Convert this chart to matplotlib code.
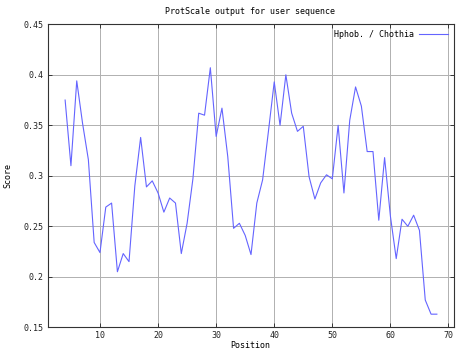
import matplotlib
matplotlib.use("Agg")
import matplotlib.pyplot as plt
from matplotlib.ticker import FixedLocator, FixedFormatter

# Posições (janela de 7 -> 4..68) e valores
posicoes = list(range(4, 69))
scores = [
    0.375, 0.310, 0.394, 0.352, 0.316, 0.234, 0.224, 0.269, 0.273, 0.205,
    0.223, 0.215, 0.290, 0.338, 0.289, 0.295, 0.283, 0.264, 0.278, 0.273,
    0.223, 0.253, 0.297, 0.362, 0.360, 0.407, 0.339, 0.367, 0.319, 0.248,
    0.253, 0.241, 0.222, 0.273, 0.296, 0.344, 0.393, 0.350, 0.400, 0.362,
    0.344, 0.349, 0.299, 0.277, 0.293, 0.301, 0.297, 0.350, 0.283, 0.355,
    0.388, 0.369, 0.324, 0.324, 0.256, 0.318, 0.260, 0.218, 0.257, 0.250,
    0.261, 0.246, 0.177, 0.163, 0.163,
]
yticks = [0.15, 0.2, 0.25, 0.3, 0.35, 0.4, 0.45]
ytick_labels = ["0.15", "0.2", "0.25", "0.3", "0.35", "0.4", "0.45"]
xticks = [10, 20, 30, 40, 50, 60, 70]

plt.rcParams['font.family'] = ['DejaVu Sans Mono']
fig = plt.figure(figsize=(4.69, 3.52), dpi=100)
ax = fig.add_axes([47.7 / 469, 1 - 327.3 / 352, (454.3 - 47.7) / 469, (327.3 - 24.3) / 352])

ax.plot(posicoes, scores, color="#6464ff", linewidth=0.8, label="Hphob. / Chothia")
ax.set_xlim(1, 71)
ax.set_ylim(0.15, 0.45)

ax.xaxis.set_major_locator(FixedLocator(xticks))
ax.yaxis.set_major_locator(FixedLocator(yticks))
ax.yaxis.set_major_formatter(FixedFormatter(ytick_labels))
ax.tick_params(direction="in", length=3, width=0.6, labelsize=6, top=True, right=True,
               labeltop=False, labelright=False, colors="#222222", pad=3)
ax.grid(True, color="#b0b0b0", linewidth=0.7)
for s in ax.spines.values():
    s.set_linewidth(0.8)
    s.set_color("#333333")

fig.text(250 / 469, 1 - 11 / 352, "ProtScale output for user sequence", ha="center", va="center", fontsize=6)
fig.text(250 / 469, 1 - 346 / 352, "Position", ha="center", va="center", fontsize=6)
fig.text(8 / 469, 1 - 176 / 352, "Score", ha="center", va="center", rotation=90, fontsize=6)

leg = ax.legend(loc="upper right", frameon=False, fontsize=6, handlelength=3.5,
                markerfirst=False, borderaxespad=0.3, handletextpad=0.6)

fig.savefig("out.png", dpi=100)
